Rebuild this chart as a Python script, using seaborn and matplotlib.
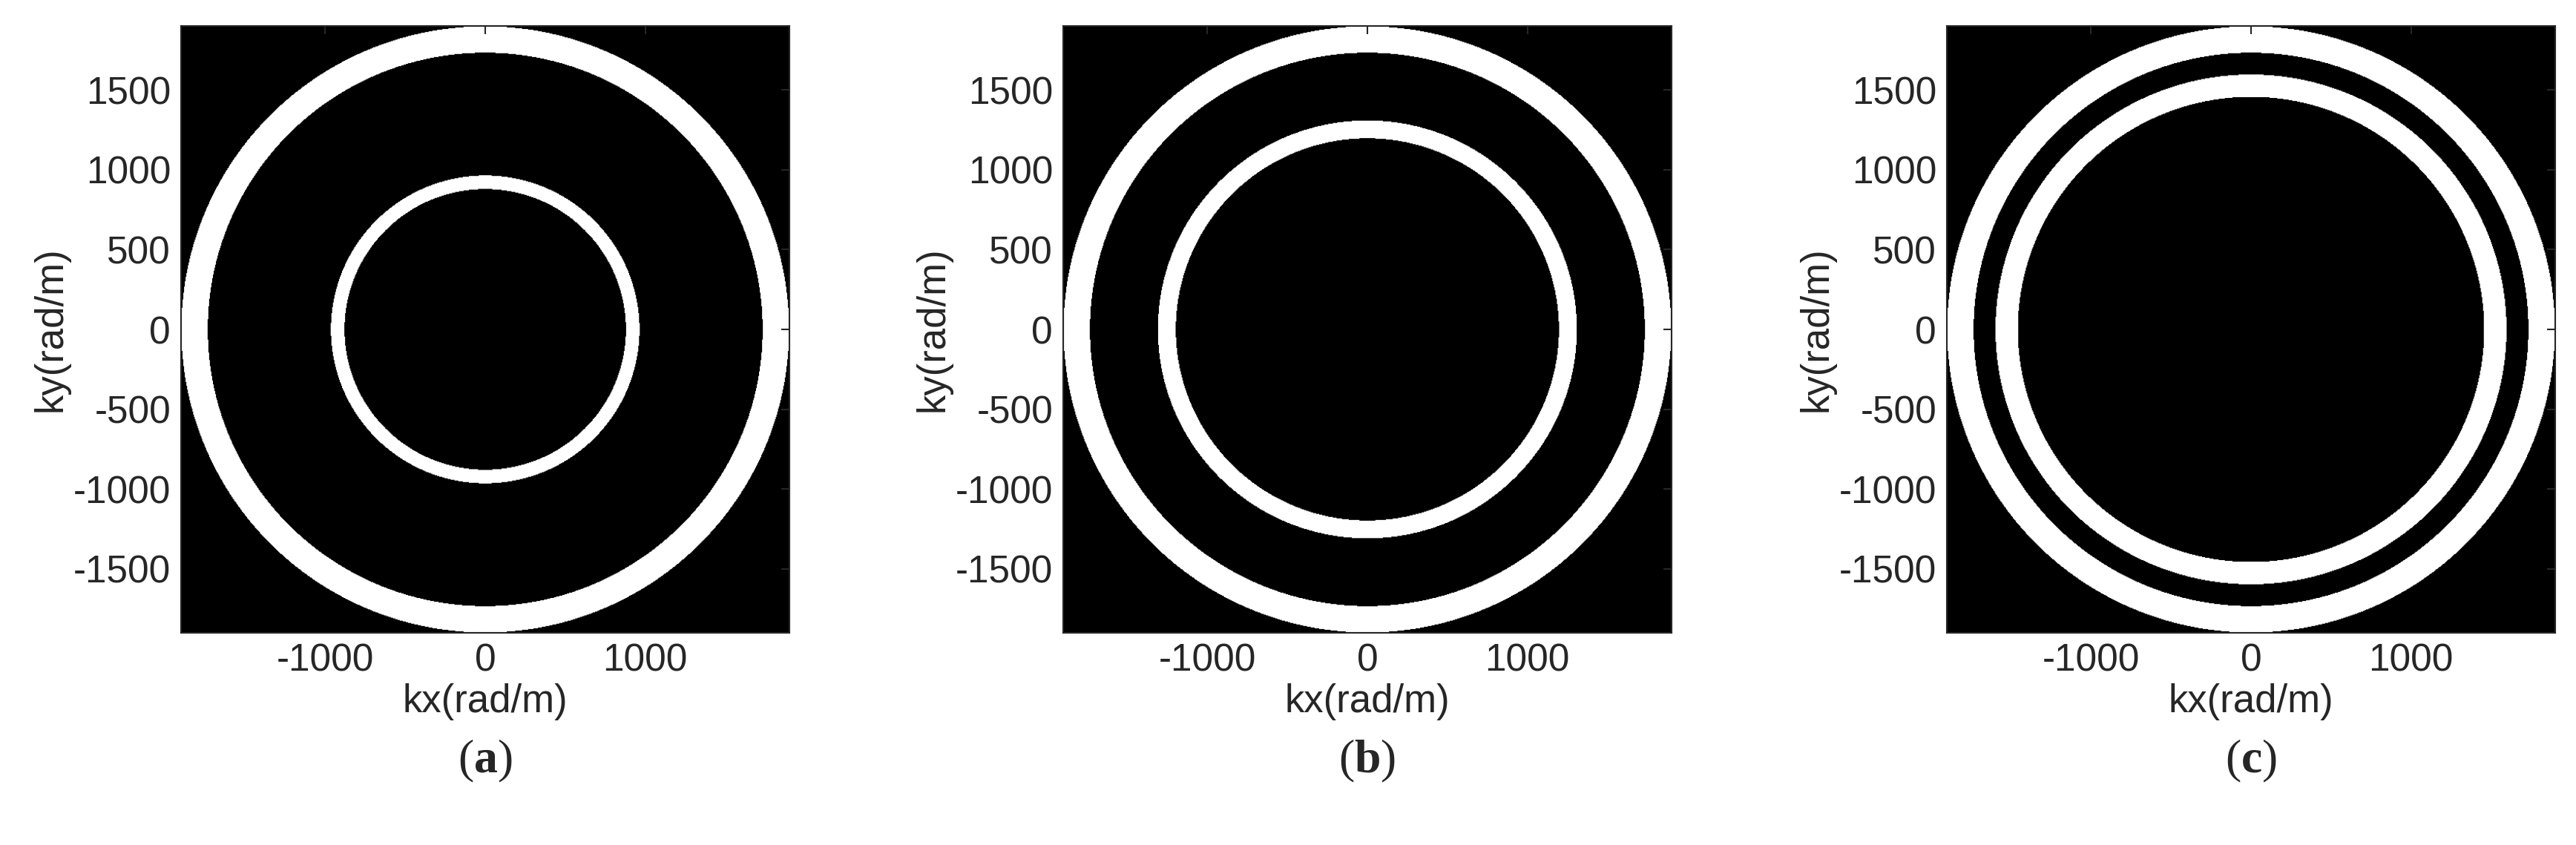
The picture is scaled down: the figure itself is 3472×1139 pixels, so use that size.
import numpy as np
import matplotlib.pyplot as plt
import seaborn as sns

sns.set_style("white")
plt.rcParams['font.family'] = ['Liberation Sans', 'DejaVu Sans']
plt.rcParams['axes.unicode_minus'] = False
plt.rcParams['mathtext.fontset'] = 'custom'
plt.rcParams['mathtext.bf'] = 'Liberation Serif:bold'
plt.rcParams['mathtext.rm'] = 'Liberation Serif'

# ring radii (rad/m): [inner, outer] per ring, per panel
panel_labels = ['a', 'b', 'c']
outer_ring = [1735, 1900]
inner_rings = [[880, 965], [1198, 1310], [1458, 1598]]
k_limit = 1900
x_ticks = [-1000, 0, 1000]
y_ticks = [-1500, -1000, -500, 0, 500, 1000, 1500]

W, H = 3472, 1139
fig = plt.figure(figsize=(W / 100, H / 100), dpi=100)
lefts = [244, 1433, 2624]
ax_w, ax_h, ax_top = 820, 818, 35

k = np.linspace(-k_limit, k_limit, 801)
kx, ky = np.meshgrid(k, k)
r = np.hypot(kx, ky)

for lab, left, ring in zip(panel_labels, lefts, inner_rings):
    ax = fig.add_axes([left / W, 1 - (ax_top + ax_h) / H, ax_w / W, ax_h / H])
    img = np.zeros_like(r)
    for lo, hi in (outer_ring, ring):
        img[(r >= lo) & (r <= hi)] = 1.0
    ax.imshow(img, cmap='gray', vmin=0, vmax=1, origin='lower',
              extent=[-k_limit, k_limit, -k_limit, k_limit],
              interpolation='bilinear', aspect='auto')
    ax.set_xlim(-k_limit, k_limit)
    ax.set_ylim(-k_limit, k_limit)
    ax.set_xticks(x_ticks)
    ax.set_yticks(y_ticks)
    ax.tick_params(direction='in', length=8, width=1.5, colors='#262626',
                   labelsize=37, top=True, right=True, pad=10)
    for t in ax.get_xticklabels() + ax.get_yticklabels():
        t.set_color('#262626')
    for s in ax.spines.values():
        s.set_color('#262626')
        s.set_linewidth(1.5)
    ax.set_xlabel('kx(rad/m)', fontsize=38, color='#262626', labelpad=4)
    ax.set_ylabel('ky(rad/m)', fontsize=38, color='#262626', labelpad=4)
    fig.text((left + ax_w / 2) / W, 1 - 1026 / H, r'($\mathbf{%s}$)' % lab,
             family='Liberation Serif', fontsize=46, ha='center', va='center')

fig.savefig('out.png', dpi=100, facecolor='white')
